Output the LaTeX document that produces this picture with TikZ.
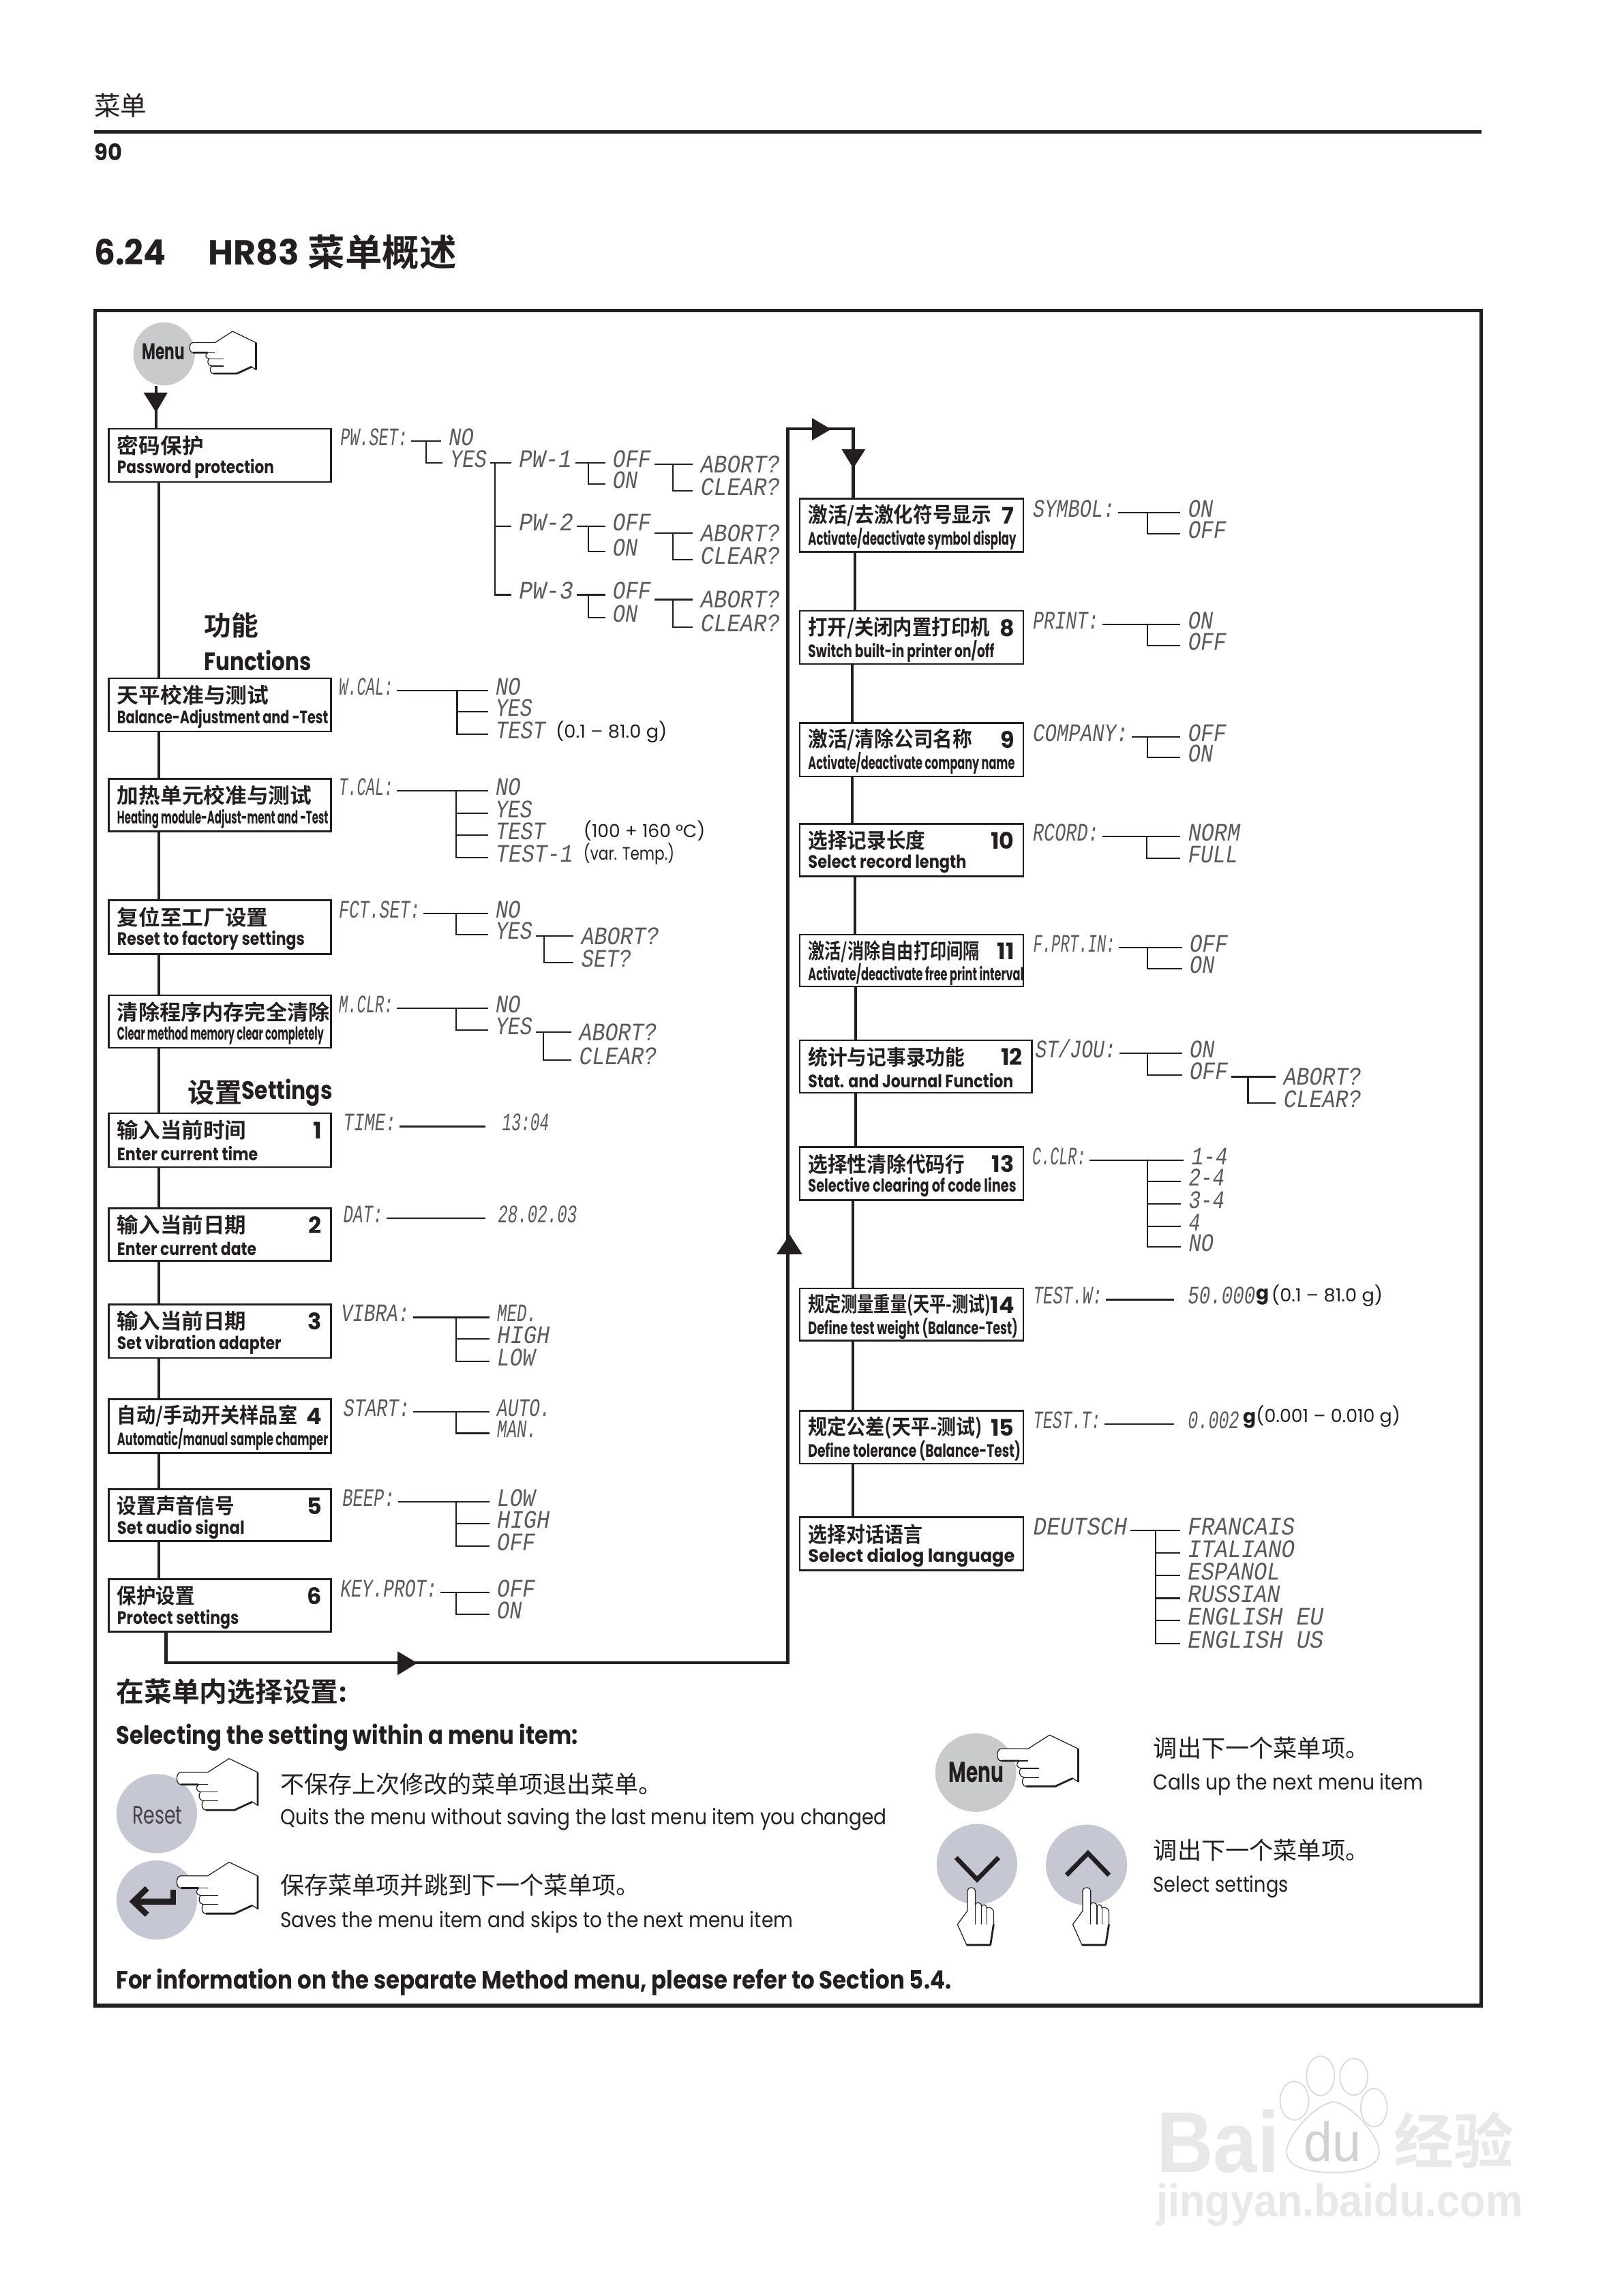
\documentclass[tikz,border=0pt]{standalone}
\usetikzlibrary{shapes.geometric}
\usepackage{fontspec}
\usepackage{graphicx}
\setmainfont{Poppins}
\newfontfamily\cjk{Noto Sans CJK SC}
\newfontfamily\cjkb{Noto Sans CJK SC Bold}
\newfontfamily\lcdf{Liberation Mono}
\newfontfamily\wmf{Liberation Sans}
\newlength\uu
\setlength\uu{0.021489cm}
\definecolor{ink}{HTML}{231F20}
\definecolor{lcdgray}{HTML}{5A5A5A}
\definecolor{btna}{HTML}{C9CACC}
\definecolor{btnb}{HTML}{C5C8D2}
\definecolor{wmk}{HTML}{E8E8E8}
\definecolor{wml}{HTML}{DADADA}
\tikzset{
  mbox/.style={draw=ink,line width=0.7pt,fill=white,anchor=north west,inner sep=0pt,outer sep=0pt},
  zhl/.style={anchor=west,inner sep=0pt,text=ink,font=\cjkb\fontsize{8.8}{9}\selectfont},
  enl/.style={anchor=west,inner sep=0pt,text=ink,font=\bfseries\fontsize{7.5}{8}\selectfont},
  numl/.style={anchor=east,inner sep=0pt,text=ink,font=\bfseries\fontsize{9.5}{10}\selectfont},
  lcdn/.style={anchor=west,inner xsep=2\uu,inner ysep=0pt,xshift=-2\uu,text height=9\uu,text depth=3\uu,text=lcdgray,font=\lcdf\itshape\fontsize{10.5}{11}\selectfont},
  lc/.style={text height=11.5\uu,text depth=0pt},
  con/.style={draw=ink,line width=0.6pt,shorten >=3\uu},
  spine/.style={draw=ink,line width=1.2pt},
  tl/.style={anchor=west,inner sep=0pt,text=ink},
  zhr/.style={tl,font=\cjk\fontsize{10}{11}\selectfont},
  enr/.style={tl,font=\fontsize{9}{10}\selectfont},
  enb/.style={tl,font=\bfseries\fontsize{10.5}{11}\selectfont},
  parn/.style={tl,font=\fontsize{7.5}{8}\selectfont},
  hd/.style={tl,font=\cjkb\fontsize{11.3}{12}\selectfont},
  btnt/.style={inner sep=0pt,text=ink},
  handl/.style={draw=ink,line width=0.35pt,fill=white,line join=round},
  handt/.style={draw=ink,line width=0.8pt},
  chev/.style={draw=ink,line width=1.9pt,line join=miter},
}
\newcommand\fw[2]{\resizebox{#1\uu}{\height}{#2}}
\newcommand\nn[1]{#1\hspace{-3\uu}}
\newcommand\mnbox[9]{%
  \node[mbox,minimum width=#4\uu,minimum height=#5\uu] (#1) at (#2,#3) {};
  \node[zhl] (#1z) at (#2+5.5,#3+11.5) {#6};
  \node[enl] (#1e) at (#2+5.5,#3+27.5) {\fw{#7}{#8}};
  \if\relax\detokenize{#9}\relax\else\node[numl] (#1n) at (#2+#4-6,#3+11.5) {#9};\fi
}
\newcommand\lcd[6][]{\node[lcdn,#1] (#2) at (#3,#4) {\fw{#5}{#6}};}
\newcommand\ctree[4]{%
  \draw[con] (#1.east) -- (#3.west |- #1.east);
  \foreach \cc in {#4} {\draw[con] (#2,0 |- #1.east) |- (\cc.west);}
}
\newcommand\abtree[4]{%
  \draw[con] (#1.east |- #3.west) -- (#3.west);
  \draw[con] (#2,0 |- #3.west) |- (#4.west);
}
\newcommand\spn[3]{\draw[spine] (#3,0 |- #1.south) -- (#3,0 |- #2.north);}
\newcommand\handleft[3]{%
  \begin{scope}[shift={(#1,#2)},scale=#3]
    \path[handl] (17,-3.5) -- (29,-11.2) -- (45,-3.5) -- (45,15) -- (42,13) -- (32,17.6) -- (16,17.6)
      .. controls (14,17.6) and (13,15) .. (14.5,12.5)
      .. controls (12,12) and (11.5,9) .. (13,7.5)
      .. controls (10.5,7) and (10,5) .. (12,3.3)
      -- (2,3.3) .. controls (-1,3.3) and (-1,-3.5) .. (2,-3.5) -- cycle;
    \draw[handl,fill=none] (14.5,12.5) -- (23,12.5) (13,7.5) -- (23,7.5) (12,3.3) -- (17,3.3);
    \draw[handt] (45,-3.5) -- (45,15) (42,13) -- (32,17.6) -- (16,17.6) (2,3.3) -- (12,3.3);
  \end{scope}}
\newcommand\handup[2]{%
  \begin{scope}[shift={(#1,#2)}]
    \path[handl] (-2.7,15.8) -- (-2.7,2) .. controls (-2.7,-0.8) and (2.7,-0.8) .. (2.7,2) -- (2.7,11.5)
      .. controls (3,9.5) and (6.5,9.5) .. (7,12.7)
      .. controls (7.5,11) and (10.2,11) .. (10.5,14)
      .. controls (11,13) and (15,13) .. (15.2,17) -- (15.2,25) -- (13,39.1) -- (-3.2,39.1) -- (-9.5,25) -- cycle;
    \draw[handl,fill=none] (2.7,11.5) -- (2.7,25) (7,12.7) -- (7,25) (10.5,14) -- (10.5,25);
    \draw[handt] (-3.2,39.1) -- (13,39.1) (15.2,25) -- (13,39.1);
  \end{scope}}
\begin{document}
\begin{tikzpicture}[x=0.021489cm,y=-0.021489cm]
\useasboundingbox (0,0) rectangle (1108,1567.3);
\fill[white] (0,0) rectangle (1108,1567.3);

% header
\node[tl,font=\cjk\fontsize{11}{12}\selectfont] (hdr) at (64,72) {菜单};
\coordinate (rula) at (64,90);
\coordinate (rulb) at (1011,90);
\draw[draw=ink,line width=1.3pt] (rula) -- (rulb);
\node[tl,font=\bfseries\fontsize{9.5}{10}\selectfont] (pg) at (64,104) {\fw{19}{90}};
\node[tl,font=\bfseries\fontsize{14.5}{15}\selectfont] (secn) at (64,172) {\fw{49}{6.24}};
\node[tl,font=\bfseries\fontsize{14.5}{15}\selectfont] (sect) at (142,172) {\fw{62}{HR83}};
\node[tl,font=\cjkb\fontsize{15.5}{16}\selectfont] (secz) at (210,172) {菜单概述};
\draw[draw=ink,line width=1.5pt] (65,212) rectangle (1011,1369);

% menu button
\node[ellipse,fill=btna,minimum width=42\uu,minimum height=43\uu,inner sep=0pt] (mn) at (112,241.6) {};
\handleft{129.7}{237.4}{1}
\node[btnt,font=\bfseries\fontsize{9.5}{10}\selectfont] (mnt) at (111.5,240) {\fw{29}{Menu}};

% left column boxes
\mnbox{b1}{74.2}{292.6}{151.8}{36.3}{\fw{59}{密码保护}}{107}{Password protection}{}
\mnbox{b2}{74.2}{463}{151.8}{36.2}{\fw{103.5}{天平校准与测试}}{144}{Balance-Adjustment and -Test}{}
\mnbox{b3}{74.2}{531.6}{151.8}{35.9}{\fw{132.7}{加热单元校准与测试}}{144}{Heating module-Adjust-ment and -Test}{}
\mnbox{b4}{74.2}{614.5}{151.8}{36.7}{\fw{103}{复位至工厂设置}}{128}{Reset to factory settings}{}
\mnbox{b5}{74.2}{679.4}{151.8}{35.8}{\fw{145}{清除程序内存完全清除}}{141}{Clear method memory clear completely}{}
\mnbox{b6}{74.2}{760}{151.8}{36.6}{\fw{88}{输入当前时间}}{96}{Enter current time}{1}
\mnbox{b7}{74.2}{824.8}{151.8}{35.9}{\fw{88}{输入当前日期}}{95}{Enter current date}{2}
\mnbox{b8}{74.2}{890.4}{151.8}{36.6}{\fw{88}{输入当前日期}}{112}{Set vibration adapter}{3}
\mnbox{b9}{74.2}{955.2}{151.8}{36.6}{\fw{123}{自动/手动开关样品室}}{144}{Automatic/manual sample champer}{4}
\mnbox{b10}{74.2}{1016.5}{151.8}{35.5}{\fw{80}{设置声音信号}}{87}{Set audio signal}{5}
\mnbox{b11}{74.2}{1077.9}{151.8}{35.9}{\fw{53}{保护设置}}{83}{Protect settings}{6}

% right column boxes
\mnbox{c1}{545.8}{340.5}{152.8}{36.3}{\fw{125}{激活/去激化符号显示}}{142}{Activate/deactivate symbol display}{7}
\mnbox{c2}{545.8}{417}{152.8}{36.3}{\fw{124}{打开/关闭内置打印机}}{127}{Switch built-in printer on/off}{8}
\mnbox{c3}{545.8}{493.5}{152.8}{36.5}{\fw{112}{激活/清除公司名称}}{141}{Activate/deactivate company name}{9}
\mnbox{c4}{545.8}{562.3}{152.8}{35.9}{\fw{80}{选择记录长度}}{108}{Select record length}{\nn{10}}
\mnbox{c5}{545.8}{637.9}{152.8}{35.5}{\fw{117}{激活/消除自由打印间隔}}{147}{Activate/deactivate free print interval}{\nn{11}}
\mnbox{c6}{545.8}{710}{158.5}{35.9}{\fw{107}{统计与记事录功能}}{140}{Stat. and Journal Function}{\nn{12}}
\mnbox{c7}{545.8}{783}{152.8}{36.3}{\fw{107}{选择性清除代码行}}{142}{Selective clearing of code lines}{\nn{13}}
\mnbox{c8}{545.8}{879.4}{152.8}{35.6}{\fw{125}{规定测量重量(天平-测试)}}{143}{Define test weight (Balance-Test)}{\nn{14}}
\mnbox{c9}{545.8}{963}{152.8}{36.2}{\fw{119}{规定公差(天平-测试)}}{145}{Define tolerance (Balance-Test)}{\nn{15}}
\mnbox{c10}{545.8}{1035.7}{152.8}{36.3}{\fw{78}{选择对话语言}}{141}{Select dialog language}{}

% spines
\draw[spine] (106.5,0 |- mn.south) -- (106.5,0 |- b1.north);
\spn{b1}{b2}{108.5}\spn{b2}{b3}{108.5}\spn{b3}{b4}{108.5}\spn{b4}{b5}{108.5}\spn{b5}{b6}{108.5}
\spn{b6}{b7}{108.5}\spn{b7}{b8}{108.5}\spn{b8}{b9}{108.5}\spn{b9}{b10}{108.5}\spn{b10}{b11}{108.5}
\spn{c1}{c2}{583.7}\spn{c2}{c3}{581.8}\spn{c3}{c4}{581.8}\spn{c4}{c5}{583.7}\spn{c5}{c6}{584}
\spn{c6}{c7}{584}\spn{c7}{c8}{582}\spn{c8}{c9}{582}\spn{c9}{c10}{582}
\draw[spine] (113.3,0 |- b11.south) |- (537.7,1135) |- (582.4,292.7) -- (582.4,0 |- c1.north);
% arrowheads
\fill[ink] (98,268) -- (114.4,268) -- (106.5,281.5) -- cycle;
\fill[ink] (271.3,1127.2) -- (284.8,1135.2) -- (271.3,1143.5) -- cycle;
\fill[ink] (530,856.2) -- (539,842.8) -- (547.6,856.2) -- cycle;
\fill[ink] (554.3,285.4) -- (567.2,293) -- (554.3,300.6) -- cycle;
\fill[ink] (574.4,306.6) -- (590.7,306.6) -- (582.4,319.7) -- cycle;

% headings
\node[hd] (hfa) at (139,427) {功能};
\node[tl,font=\bfseries\fontsize{10.5}{11}\selectfont] (hfb) at (139,451) {\fw{73}{Functions}};
\node[hd] (hsa) at (128,746) {设置};
\node[tl,font=\bfseries\fontsize{10.5}{11}\selectfont] (hsb) at (164.6,746) {\fw{62}{Settings}};

% password tree
\lcd{pwset}{232}{301}{46}{PW.SET:}
\lcd{pno}{306}{301}{17}{NO}
\lcd{pyes}{307}{316}{25}{YES}
\ctree{pwset}{290.7}{pno}{pyes}
\lcd{pwa}{354}{316}{36}{PW-1}
\lcd{pwb}{354}{359.4}{37}{PW-2}
\lcd{pwc}{354}{406}{37}{PW-3}
\ctree{pyes}{338}{pwa}{pwb,pwc}
\lcd{offa}{418}{316}{26}{OFF}
\lcd{ona}{418}{330.4}{17}{ON}
\ctree{pwa}{401.4}{offa}{ona}
\lcd[lc]{aba}{478}{317}{54}{ABORT?}
\lcd{cla}{478}{335}{54}{CLEAR?}
\abtree{offa}{459.5}{aba}{cla}
\lcd{offb}{418}{359.4}{26}{OFF}
\lcd{onb}{418}{376.5}{17}{ON}
\ctree{pwb}{401.4}{offb}{onb}
\lcd[lc]{abb}{478}{364}{54}{ABORT?}
\lcd{clb}{478}{382}{54}{CLEAR?}
\abtree{offb}{459.5}{abb}{clb}
\lcd{offc}{418}{406}{26}{OFF}
\lcd{onc}{418}{421.7}{17}{ON}
\ctree{pwc}{401.4}{offc}{onc}
\lcd[lc]{abc}{478}{409.3}{54}{ABORT?}
\lcd{clc}{478}{428}{54}{CLEAR?}
\abtree{offc}{459.5}{abc}{clc}

% W.CAL
\lcd{wcal}{231}{471.6}{37}{W.CAL:}
\lcd{wno}{338}{471.6}{17}{NO}
\lcd{wyes}{338}{486}{25}{YES}
\lcd{wtest}{338}{501.3}{34}{TEST}
\ctree{wcal}{312}{wno}{wyes,wtest}
\node[parn] (wr) at (379,499.6) {\fw{76}{(0.1 – 81.0 g)}};
% T.CAL
\lcd{tcal}{231}{540}{37}{T.CAL:}
\lcd{tno}{338}{540}{17}{NO}
\lcd{tyes}{338}{555}{25}{YES}
\lcd{ttest}{338}{570}{34}{TEST}
\lcd{ttesta}{338}{585.6}{53}{TEST-1}
\ctree{tcal}{311.3}{tno}{tyes,ttest,ttesta}
\node[parn] (tr) at (398,567) {\fw{83}{(100 + 160 °C)}};
\node[parn] (trb) at (398,583) {\fw{62}{(var. Temp.)}};
% FCT.SET
\lcd{fct}{231}{623.4}{55.5}{FCT.SET:}
\lcd{fno}{338}{623.4}{17}{NO}
\lcd{fyes}{338}{638}{25}{YES}
\ctree{fct}{311.3}{fno}{fyes}
\lcd[lc]{fab}{396.5}{638.8}{53}{ABORT?}
\lcd{fse}{396.5}{657}{34}{SET?}
\abtree{fyes}{371.5}{fab}{fse}
% M.CLR
\lcd{mclr}{231}{688.2}{37}{M.CLR:}
\lcd{mno}{338}{688.2}{17}{NO}
\lcd{myes}{338}{703.3}{25}{YES}
\ctree{mclr}{311.3}{mno}{myes}
\lcd[lc]{mab}{395}{704.4}{53}{ABORT?}
\lcd{mcl}{395}{723.7}{53}{CLEAR?}
\abtree{myes}{370.7}{mab}{mcl}
% TIME, DAT
\lcd{tim}{234}{769}{36}{TIME:}
\lcd{timv}{342.5}{769}{32}{13:04}
\draw[con,shorten >=9\uu] (tim.east) -- (timv.west);
\lcd{dat}{234}{831.7}{27}{DAT:}
\lcd{datv}{339.5}{831.7}{54}{28.02.03}
\draw[con,shorten >=6\uu] (dat.east) -- (datv.west);
% VIBRA
\lcd{vib}{232.6}{899.3}{46.6}{VIBRA:}
\lcd{vmed}{339}{899.3}{27}{MED.}
\lcd{vhig}{339}{913.9}{36}{HIGH}
\lcd{vlow}{339}{929.4}{26}{LOW}
\ctree{vib}{311.3}{vmed}{vhig,vlow}
% START
\lcd{sta}{234}{963.7}{45.5}{START:}
\lcd{saut}{339}{963.7}{36.5}{AUTO.}
\lcd{sman}{339}{978.4}{27}{MAN.}
\ctree{sta}{311.3}{saut}{sman}
% BEEP
\lcd{bee}{233.5}{1025}{35.5}{BEEP:}
\lcd{blow}{339}{1025}{26}{LOW}
\lcd{bhig}{339}{1040}{36}{HIGH}
\lcd{boff}{339}{1055.5}{26}{OFF}
\ctree{bee}{311.3}{blow}{bhig,boff}
% KEY.PROT
\lcd{key}{232}{1087}{66}{KEY.PROT:}
\lcd{koff}{339}{1087}{26}{OFF}
\lcd{kon}{339}{1101.8}{17}{ON}
\ctree{key}{311.3}{koff}{kon}

% right trees
\lcd{sym}{704.7}{349.8}{56}{SYMBOL:}
\lcd{syon}{810.7}{349.8}{17}{ON}
\lcd{syof}{810.7}{364.4}{26}{OFF}
\ctree{sym}{783}{syon}{syof}
\lcd{pri}{704.7}{426.3}{45}{PRINT:}
\lcd{pron}{810.7}{426.3}{17}{ON}
\lcd{prof}{810.7}{440.8}{26}{OFF}
\ctree{pri}{783}{pron}{prof}
\lcd{com}{704.7}{502.9}{65}{COMPANY:}
\lcd{coof}{810.7}{502.9}{26}{OFF}
\lcd{coon}{810.7}{517.2}{17}{ON}
\ctree{com}{783}{coof}{coon}
\lcd{rec}{704.7}{571}{45}{RCORD:}
\lcd{rnor}{810.7}{571}{35.5}{NORM}
\lcd{rful}{810.7}{586}{34}{FULL}
\ctree{rec}{782.7}{rnor}{rful}
\lcd{fpr}{704.9}{647}{56}{F.PRT.IN:}
\lcd{fpof}{811.7}{647}{26}{OFF}
\lcd{fpon}{811.7}{661.4}{17}{ON}
\ctree{fpr}{783}{fpof}{fpon}
\lcd{stj}{706.4}{719}{55}{ST/JOU:}
\lcd{stjn}{811.7}{719}{17}{ON}
\lcd{stjf}{811.7}{733.8}{26}{OFF}
\ctree{stj}{783}{stjn}{stjf}
\lcd[lc]{stab}{875.8}{735}{53}{ABORT?}
\lcd{stcl}{875.8}{753}{53}{CLEAR?}
\abtree{stjf}{851.8}{stab}{stcl}
\lcd{ccl}{704.3}{792}{36.5}{C.CLR:}
\lcd{cca}{813}{792}{24.6}{1-4}
\lcd{ccb}{811}{806.3}{24.6}{2-4}
\lcd{ccc}{811}{822}{24.6}{3-4}
\lcd{ccd}{811}{837.3}{8}{4}
\lcd{cce}{811}{851}{17}{NO}
\ctree{ccl}{783}{cca}{ccb,ccc,ccd,cce}
\lcd{tsw}{705}{887.2}{47}{TEST.W:}
\lcd{tswv}{810.5}{887.2}{46}{50.000}
\draw[con,shorten >=7\uu] (tsw.east) -- (tswv.west);
\node[tl,font=\bfseries\fontsize{8}{9}\selectfont] (tswg) at (857,885.5) {g};
\node[parn] (tswr) at (867.5,884.6) {\fw{76}{(0.1 – 81.0 g)}};
\lcd{tst}{705}{972}{46}{TEST.T:}
\lcd{tstv}{810.5}{972}{35}{0.002}
\draw[con,shorten >=7\uu] (tst.east) -- (tstv.west);
\node[tl,font=\bfseries\fontsize{8}{9}\selectfont] (tstg) at (848.2,969.5) {g};
\node[parn] (tstr) at (857,967) {\fw{98.5}{(0.001 – 0.010 g)}};
\lcd{deuts}{705}{1044.6}{64}{DEUTSCH}
\lcd{dfr}{810.5}{1044.6}{73}{FRANCAIS}
\lcd{dit}{810.5}{1060}{73}{ITALIANO}
\lcd{des}{810.5}{1075.6}{63}{ESPANOL}
\lcd{dru}{810.5}{1091}{63}{RUSSIAN}
\lcd{den}{810.5}{1106}{92.6}{ENGLISH EU}
\lcd{dus}{810.5}{1122}{92.6}{ENGLISH US}
\ctree{deuts}{788.9}{dfr}{dit,des,dru,den,dus}

% lower help block
\node[hd] (h2a) at (79,1155) {\fw{158}{在菜单内选择设置:}};
\node[enb] (h2b) at (79,1186) {\fw{315}{Selecting the setting within a menu item:}};
\node[ellipse,fill=btnb,minimum width=55\uu,minimum height=54\uu,inner sep=0pt] (rst) at (107,1238) {};
\node[btnt,text=ink!85,font=\fontsize{10.5}{11}\selectfont] (rstt) at (107.5,1239) {\fw{34}{Reset}};
\handleft{121}{1214.1}{1.22}
\node[zhr] (q1) at (191,1218) {\fw{261}{不保存上次修改的菜单项退出菜单。}};
\node[enr] (q2) at (191,1242) {\fw{414}{Quits the menu without saving the last menu item you changed}};
\node[ellipse,fill=btnb,minimum width=55\uu,minimum height=54\uu,inner sep=0pt] (ent) at (107,1297) {};
\draw[draw=ink,line width=2.5pt] (118.2,1290) -- (118.2,1298) -- (92,1298);
\draw[chev,line width=2.4pt] (100.4,1289) -- (91,1298) -- (100.4,1307);
\handleft{121}{1284.8}{1.22}
\node[zhr] (s1) at (191,1287) {保存菜单项并跳到下一个菜单项。};
\node[enr] (s2) at (191,1312) {\fw{350}{Saves the menu item and skips to the next menu item}};
\node[enb] (fo) at (79,1353) {\fw{570}{For information on the separate Method menu, please refer to Section 5.4.}};

\node[ellipse,fill=btna,minimum width=55.3\uu,minimum height=53.6\uu,inner sep=0pt] (mb) at (666,1210) {};
\handleft{681}{1198}{1.22}
\node[btnt,font=\bfseries\fontsize{12}{13}\selectfont] (mbt) at (666.3,1210) {\fw{37.5}{Menu}};
\node[ellipse,fill=btnb,minimum width=55\uu,minimum height=55\uu,inner sep=0pt] (dn) at (666.8,1272.6) {};
\draw[chev] (652.5,1268) -- (666.9,1283) -- (681.6,1268);
\handup{663}{1288.6}
\node[ellipse,fill=btnb,minimum width=55.4\uu,minimum height=55\uu,inner sep=0pt] (up) at (741.6,1273) {};
\draw[chev] (727.9,1280) -- (742.6,1265) -- (757,1280);
\handup{741.7}{1288.6}
\node[zhr] (m1) at (787,1193) {调出下一个菜单项。};
\node[enr] (m2) at (787,1218) {\fw{184}{Calls up the next menu item}};
\node[zhr] (m3) at (787,1263) {调出下一个菜单项。};
\node[enr] (m4) at (787,1288) {\fw{92}{Select settings}};

% watermark
\node[tl,text=wmk,font=\wmf\bfseries\fontsize{36}{36}\selectfont] (wma) at (789,1462) {\fw{84}{Bai}};
\foreach \ex/\ey/\erx/\ery in {883.5/1434/9.8/13.2,901.3/1417/9.5/13.5,924/1417.7/9.5/12.5,937.8/1438.7/9/13}
  {\draw[wml,line width=0.5pt,fill=white] (\ex,\ey) ellipse [x radius=\erx,y radius=\ery];}
\draw[wml,line width=0.5pt,fill=white] (910.2,1434.8) .. controls (898,1436) and (878,1458) .. (878.2,1469)
  .. controls (878.2,1480) and (895,1483) .. (910.2,1483)
  .. controls (925,1483) and (941.4,1480) .. (941.4,1469)
  .. controls (941.4,1458) and (922,1436) .. (910.2,1434.8) -- cycle;
\node[text=wmk!90!black,inner sep=0pt,font=\wmf\fontsize{23}{23}\selectfont] (wmd) at (909.3,1462) {\fw{39}{du}};
\node[tl,text=wmk,font=\cjkb\fontsize{25}{25}\selectfont] (wmz) at (951,1461) {经验};
\node[tl,text=wmk,font=\wmf\bfseries\fontsize{19}{19}\selectfont] (wmu) at (789,1505) {\fw{250}{jingyan.baidu.com}};
\end{tikzpicture}
\end{document}
